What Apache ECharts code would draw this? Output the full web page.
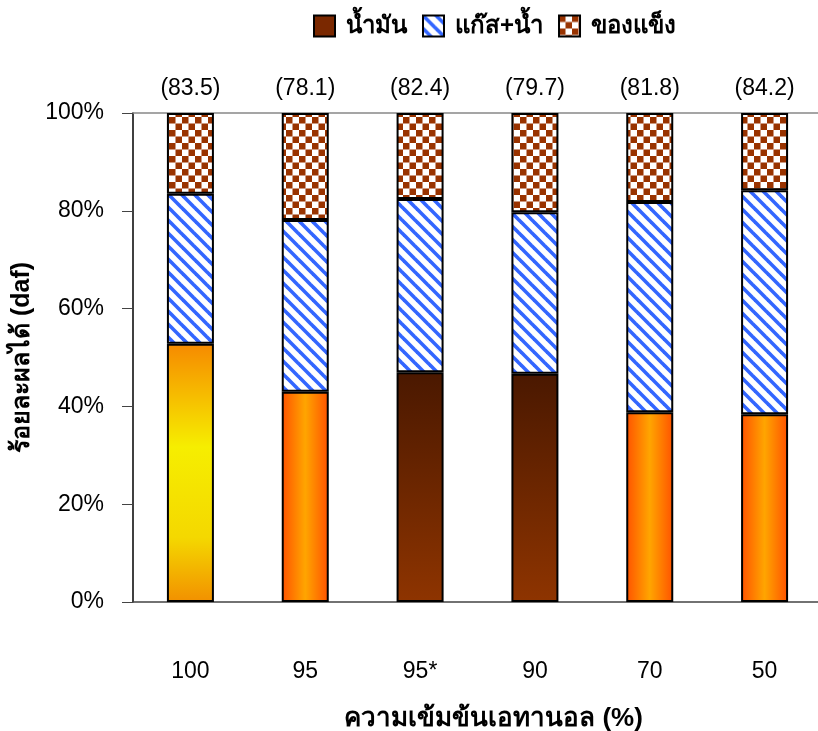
<!DOCTYPE html>
<html>
<head>
<meta charset="utf-8">
<script src="https://cdn.jsdelivr.net/npm/echarts@6/dist/echarts.min.js"></script>
<style>
  html, body { margin: 0; padding: 0; background: #fff; }
  #graph1 { width: 818px; height: 731px; }
</style>
</head>
<body>
<div id="graph1"></div>
<script>
var categories = ['100', '95', '95*', '90', '70', '50'];
var oilValues = [52.8, 43.0, 47.0, 46.7, 38.8, 38.4];
var totalValues = [83.5, 78.1, 82.4, 79.7, 81.8, 84.2];
var yTicks = [0, 20, 40, 60, 80, 100];

var seriesNames = ['น้ำมัน', 'แก๊ส+น้ำ', 'ของแข็ง'];
var FONT = '"Liberation Sans", Arial, "DejaVu Sans", sans-serif';

var gasValues = totalValues.map(function (t, i) { return +(t - oilValues[i]).toFixed(1); });
var solidValues = totalValues.map(function (t) { return +(100 - t).toFixed(1); });

function stripePattern() {
    var c = document.createElement('canvas');
    c.width = 13; c.height = 13;
    var ctx = c.getContext('2d');
    ctx.fillStyle = '#fff';
    ctx.fillRect(0, 0, 13, 13);
    ctx.strokeStyle = '#3366ff';
    ctx.lineWidth = 3.6;
    for (var k = -13; k <= 13; k += 13) {
        ctx.beginPath();
        ctx.moveTo(k - 2, -2);
        ctx.lineTo(k + 15, 15);
        ctx.stroke();
    }
    return { image: c, repeat: 'repeat' };
}

function checkerPattern() {
    var c = document.createElement('canvas');
    c.width = 13; c.height = 13;
    var ctx = c.getContext('2d');
    ctx.fillStyle = '#fff';
    ctx.fillRect(0, 0, 13, 13);
    ctx.fillStyle = '#993300';
    ctx.fillRect(0, 0, 6.5, 6.5);
    ctx.fillRect(6.5, 6.5, 6.5, 6.5);
    return { image: c, repeat: 'repeat' };
}

function hGrad(edge, mid) {
    return {
        type: 'linear', x: 0, y: 0, x2: 1, y2: 0,
        colorStops: [
            { offset: 0, color: edge },
            { offset: 0.5, color: mid },
            { offset: 1, color: edge }
        ]
    };
}

var oilYellow = {
    type: 'linear', x: 0, y: 0, x2: 0, y2: 1,
    colorStops: [
        { offset: 0, color: '#f68a00' },
        { offset: 0.4, color: '#f6ee00' },
        { offset: 0.75, color: '#f4d800' },
        { offset: 1, color: '#f29000' }
    ]
};
var oilOrange = hGrad('#ff5200', '#ffa500');
var oilDark = {
    type: 'linear', x: 0, y: 0, x2: 0, y2: 1,
    colorStops: [
        { offset: 0, color: '#4a1800' },
        { offset: 1, color: '#8e3400' }
    ]
};
var oilColors = [oilYellow, oilOrange, oilDark, oilDark, oilOrange, oilOrange];

(function () {
    var graph1 = echarts.init(document.getElementById('graph1'));

    var option = {
        animation: false,
        textStyle: { fontFamily: FONT },
        legend: {
            data: seriesNames,
            icon: 'rect',
            left: 308,
            top: 9,
            itemWidth: 21,
            itemHeight: 21,
            itemGap: 15,
            textStyle: { fontSize: 24, fontWeight: 'bold', color: '#000', fontFamily: FONT, padding: [0, 0, 0, 6] }
        },
        grid: { left: 133, top: 113, width: 689, bottom: 129, outerBoundsMode: 'none' },
        xAxis: [
            {
                type: 'category',
                data: categories,
                name: 'ความเข้มข้นเอทานอล (%)',
                nameLocation: 'middle',
                nameGap: 104,
                nameTextStyle: { fontSize: 26, fontWeight: 'bold', color: '#000', padding: [0, 0, 0, 32] },
                axisLine: { lineStyle: { color: '#444', width: 1.5 } },
                axisTick: { length: 11, lineStyle: { color: '#444' } },
                axisLabel: { fontSize: 23, color: '#000', margin: 58 }
            },
            {
                type: 'category',
                data: categories,
                position: 'top',
                axisLine: { lineStyle: { color: '#888', width: 1.5 } },
                axisTick: { show: false },
                axisLabel: { show: false }
            }
        ],
        yAxis: {
            type: 'value',
            min: 0,
            max: 100,
            interval: 20,
            name: 'ร้อยละผลได้ (daf)',
            nameLocation: 'middle',
            nameGap: 83,
            nameTextStyle: { fontSize: 25, fontWeight: 'bold', color: '#000' },
            axisLine: { show: true, lineStyle: { color: '#000', width: 1.5 } },
            axisTick: { show: true, length: 11, lineStyle: { color: '#444' } },
            splitLine: { show: false },
            axisLabel: {
                fontSize: 23, color: '#000', margin: 29,
                formatter: function (v) { return yTicks.indexOf(v) >= 0 ? v + '%' : ''; }
            }
        },
        series: [
            {
                name: seriesNames[0],
                type: 'bar',
                stack: 'all',
                barWidth: 47,
                itemStyle: { color: '#7a2800', borderColor: '#000', borderWidth: 2 },
                data: oilValues.map(function (v, i) {
                    return { value: v, itemStyle: { color: oilColors[i] } };
                })
            },
            {
                name: seriesNames[1],
                type: 'bar',
                stack: 'all',
                barWidth: 47,
                itemStyle: { color: stripePattern(), borderColor: '#000', borderWidth: 2 },
                data: gasValues
            },
            {
                name: seriesNames[2],
                type: 'bar',
                stack: 'all',
                barWidth: 47,
                itemStyle: { color: checkerPattern(), borderColor: '#000', borderWidth: 2 },
                label: {
                    show: true,
                    position: 'top',
                    distance: 13,
                    fontSize: 23,
                    color: '#000',
                    formatter: function (p) { return '(' + totalValues[p.dataIndex].toFixed(1) + ')'; }
                },
                data: solidValues
            }
        ]
    };

    graph1.setOption(option, true);
})();
</script>
</body>
</html>
